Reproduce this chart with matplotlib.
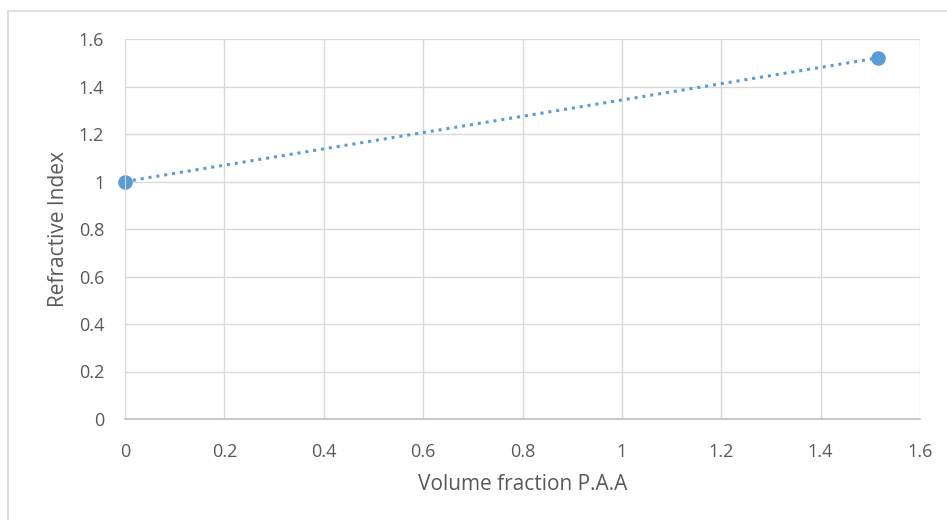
import matplotlib
matplotlib.use("Agg")
import matplotlib.pyplot as plt
from matplotlib.patches import Rectangle

x_vals = [0.0, 1.515]
y_vals = [1.0, 1.52]
x_ticks = [0, 0.2, 0.4, 0.6, 0.8, 1, 1.2, 1.4, 1.6]
y_ticks = [0, 0.2, 0.4, 0.6, 0.8, 1, 1.2, 1.4, 1.6]
x_label = "Volume fraction P.A.A"
y_label = "Refractive Index"

plt.rcParams['font.family'] = ['Open Sans', 'DejaVu Sans']

W, H = 947, 520
fig = plt.figure(figsize=(W/100, H/100), dpi=100)
fig.patches.append(Rectangle((8/W, -0.1), 1.0, 1.1 - 11/H, transform=fig.transFigure,
                             fill=False, edgecolor='#d9d9d9', linewidth=1.2))
ax = fig.add_axes([125/W, 1 - 419/H, (920-125)/W, (419-39)/H])
ax.set_xlim(0, 1.6)
ax.set_ylim(0, 1.6)
ax.set_xticks(x_ticks)
ax.set_yticks(y_ticks)
fmt = lambda v: ('%g' % v)
ax.set_xticklabels([fmt(v) for v in x_ticks])
ax.set_yticklabels([fmt(v) for v in y_ticks])
ax.grid(True, color='#d9d9d9', linewidth=1.0)
ax.set_axisbelow(True)
for s in ['top', 'right']:
    ax.spines[s].set_visible(False)
ax.spines['left'].set_color('#d9d9d9')
ax.spines['bottom'].set_color('#bfbfbf')
ax.spines['bottom'].set_linewidth(1.2)
ax.tick_params(length=0, labelsize=13, labelcolor='#595959')
ax.tick_params(axis='x', pad=17)
ax.tick_params(axis='y', pad=15)

ax.plot(x_vals, y_vals, linestyle=(0, (1, 1.6)), color='#5b9bd5', linewidth=2.2,
        marker='o', markersize=9.5, markerfacecolor='#5b9bd5', markeredgecolor='#5b9bd5',
        clip_on=False)

ax.set_xlabel(x_label, fontsize=15, color='#595959', labelpad=10)
ax.set_ylabel(y_label, fontsize=15, color='#595959', labelpad=7)

fig.savefig("out.png", dpi=100)
